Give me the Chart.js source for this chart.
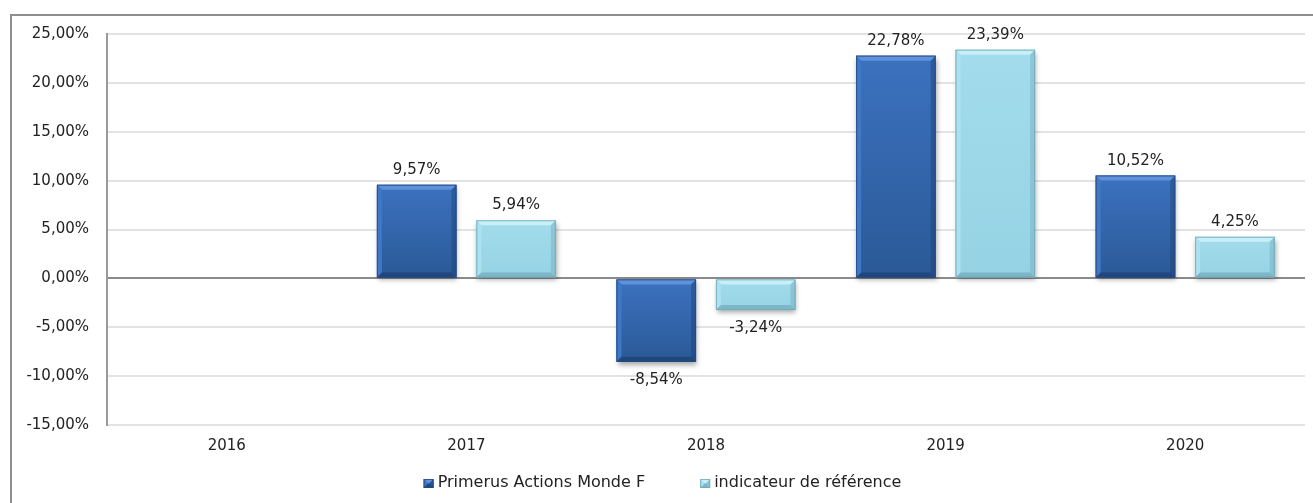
<!DOCTYPE html>
<html>
<head>
<meta charset="utf-8">
<script src="https://cdn.jsdelivr.net/npm/chart.js@4"></script>
<style>
    body { margin: 0; background: #fff; }
    #frame {
        position: absolute; left: 10px; top: 14px;
        width: 1301px; height: 487px;
        border-top: 2px solid #8e8e8e; border-left: 2px solid #8e8e8e;
    }
</style>
</head>
<body>
<div id="frame"><canvas id="perf-chart" width="1301" height="487"></canvas></div>
<script>
// Performances annuelles
const years = ['2016', '2017', '2018', '2019', '2020'];
const fundValues = [null, 9.57, -8.54, 22.78, 10.52];
const benchValues = [null, 5.94, -3.24, 23.39, 4.25];
const seriesNames = ['Primerus Actions Monde F', 'indicateur de référence'];

const FONT = 'DejaVu Sans';
const FSIZE = 15;

function pct(v) {
    return v.toFixed(2).replace('.', ',') + '%';
}

// bevel colours per dataset
const bevel = [
    { top: '#3b72bf', bottom: '#2b5997', hi: '#5f92da', side: '#3f78c6', dark: '#1d4176', legend: '#2c5ea4', line: '#24497f' },
    { top: '#a3dcec', bottom: '#95d3e4', hi: '#c6eff8', side: '#ace1ef', dark: '#74adbd', legend: '#8fd0e2', line: '#6fa8b8' }
];

function drawBevel(ctx, l, t, w, h, c, shadow) {
    const r = l + w, b = t + h;
    const e = Math.min(5, h / 2);
    ctx.save();
    if (shadow) {
        ctx.shadowColor = 'rgba(0,0,0,0.35)';
        ctx.shadowBlur = 5;
        ctx.shadowOffsetX = 1;
        ctx.shadowOffsetY = 3;
    }
    const g = ctx.createLinearGradient(0, t, 0, b);
    g.addColorStop(0, c.top);
    g.addColorStop(1, c.bottom);
    ctx.fillStyle = g;
    ctx.fillRect(l, t, w, h);
    ctx.restore();
    ctx.save();
    ctx.fillStyle = c.hi;
    ctx.beginPath();
    ctx.moveTo(l, t); ctx.lineTo(r, t); ctx.lineTo(r - e, t + e); ctx.lineTo(l + e, t + e);
    ctx.closePath(); ctx.fill();
    ctx.fillStyle = c.side;
    ctx.beginPath();
    ctx.moveTo(l, t); ctx.lineTo(l + e, t + e); ctx.lineTo(l + e, b - e); ctx.lineTo(l, b);
    ctx.closePath(); ctx.fill();
    ctx.fillStyle = c.dark;
    ctx.globalAlpha = 0.45;
    ctx.beginPath();
    ctx.moveTo(r, t); ctx.lineTo(r, b); ctx.lineTo(r - e, b - e); ctx.lineTo(r - e, t + e);
    ctx.closePath(); ctx.fill();
    ctx.globalAlpha = 0.75;
    ctx.beginPath();
    ctx.moveTo(l, b); ctx.lineTo(r, b); ctx.lineTo(r - e, b - e); ctx.lineTo(l + e, b - e);
    ctx.closePath(); ctx.fill();
    ctx.globalAlpha = 0.8;
    ctx.strokeStyle = c.line;
    ctx.lineWidth = 1;
    ctx.strokeRect(l + 0.5, t + 0.5, w - 1, h - 1);
    ctx.restore();
}

const bevelPlugin = {
    id: 'bevelBars',
    afterDatasetsDraw(chart) {
        chart.data.datasets.forEach((ds, di) => {
            const meta = chart.getDatasetMeta(di);
            meta.data.forEach((bar, i) => {
                if (ds.data[i] === null) return;
                const t = Math.min(bar.y, bar.base), b = Math.max(bar.y, bar.base);
                drawBevel(chart.ctx, bar.x - bar.width / 2, t, bar.width, b - t, bevel[di], true);
            });
        });
    }
};

const labelPlugin = {
    id: 'valueLabels',
    afterDatasetsDraw(chart) {
        const ctx = chart.ctx;
        ctx.save();
        ctx.font = FSIZE + 'px "' + FONT + '"';
        ctx.fillStyle = '#222';
        ctx.textAlign = 'center';
        chart.data.datasets.forEach((ds, di) => {
            const meta = chart.getDatasetMeta(di);
            meta.data.forEach((bar, i) => {
                const v = ds.data[i];
                if (v === null) return;
                if (v >= 0) {
                    ctx.textBaseline = 'alphabetic';
                    ctx.fillText(pct(v), bar.x, bar.y - 11);
                } else {
                    ctx.textBaseline = 'top';
                    ctx.fillText(pct(v), bar.x, bar.y + 11);
                }
            });
        });
        ctx.restore();
    }
};

// legend drawn by hand so the spacing matches the original
const legendPlugin = {
    id: 'bottomLegend',
    afterDraw(chart) {
        const ctx = chart.ctx;
        ctx.save();
        ctx.font = '16px "' + FONT + '"';
        const box = 9, gapText = 5, gapItem = 55;
        const widths = seriesNames.map(n => ctx.measureText(n).width);
        const total = widths.reduce((a, w) => a + box + gapText + w, 0) + gapItem * (seriesNames.length - 1);
        let x = chart.width / 2 - total / 2;
        const y = chart.height - 20;
        ctx.textBaseline = 'middle';
        seriesNames.forEach((n, i) => {
            drawBevel(ctx, x, y - 4, box + 1, box, bevel[i], false);
            ctx.fillStyle = '#222';
            ctx.fillText(n, x + box + gapText, y);
            x += box + gapText + widths[i] + gapItem;
        });
        ctx.restore();
    }
};

new Chart(document.getElementById('perf-chart'), {
    type: 'bar',
    data: {
        labels: years,
        datasets: [
            {
                label: seriesNames[0],
                data: fundValues,
                backgroundColor: bevel[0].legend,
                categoryPercentage: 0.83,
                barPercentage: 0.8
            },
            {
                label: seriesNames[1],
                data: benchValues,
                backgroundColor: bevel[1].legend,
                categoryPercentage: 0.83,
                barPercentage: 0.8
            }
        ]
    },
    options: {
        responsive: false,
        animation: false,
        layout: { padding: { top: 18, right: 8, left: 0, bottom: 46 } },
        scales: {
            x: {
                afterFit: s => { s.height = 32; },
                grid: { display: false, drawTicks: false },
                border: { display: false },
                ticks: { padding: 12, color: '#222', font: { family: FONT, size: FSIZE } }
            },
            y: {
                min: -15,
                max: 25,
                afterFit: s => { s.width = 95; s.paddingTop = 0; s.paddingBottom = 0; },
                grid: {
                    drawTicks: false,
                    lineWidth: 2,
                    color: ctx => ctx.tick.value === 0 ? '#8a8a8a' : '#e3e3e3'
                },
                border: { color: '#9a9a9a', width: 2 },
                ticks: {
                    stepSize: 5,
                    padding: 18,
                    color: '#222',
                    font: { family: FONT, size: FSIZE },
                    callback: v => pct(v)
                }
            }
        },
        plugins: {
            legend: { display: false },
            tooltip: { enabled: false }
        }
    },
    plugins: [bevelPlugin, labelPlugin, legendPlugin]
});
</script>
</body>
</html>
